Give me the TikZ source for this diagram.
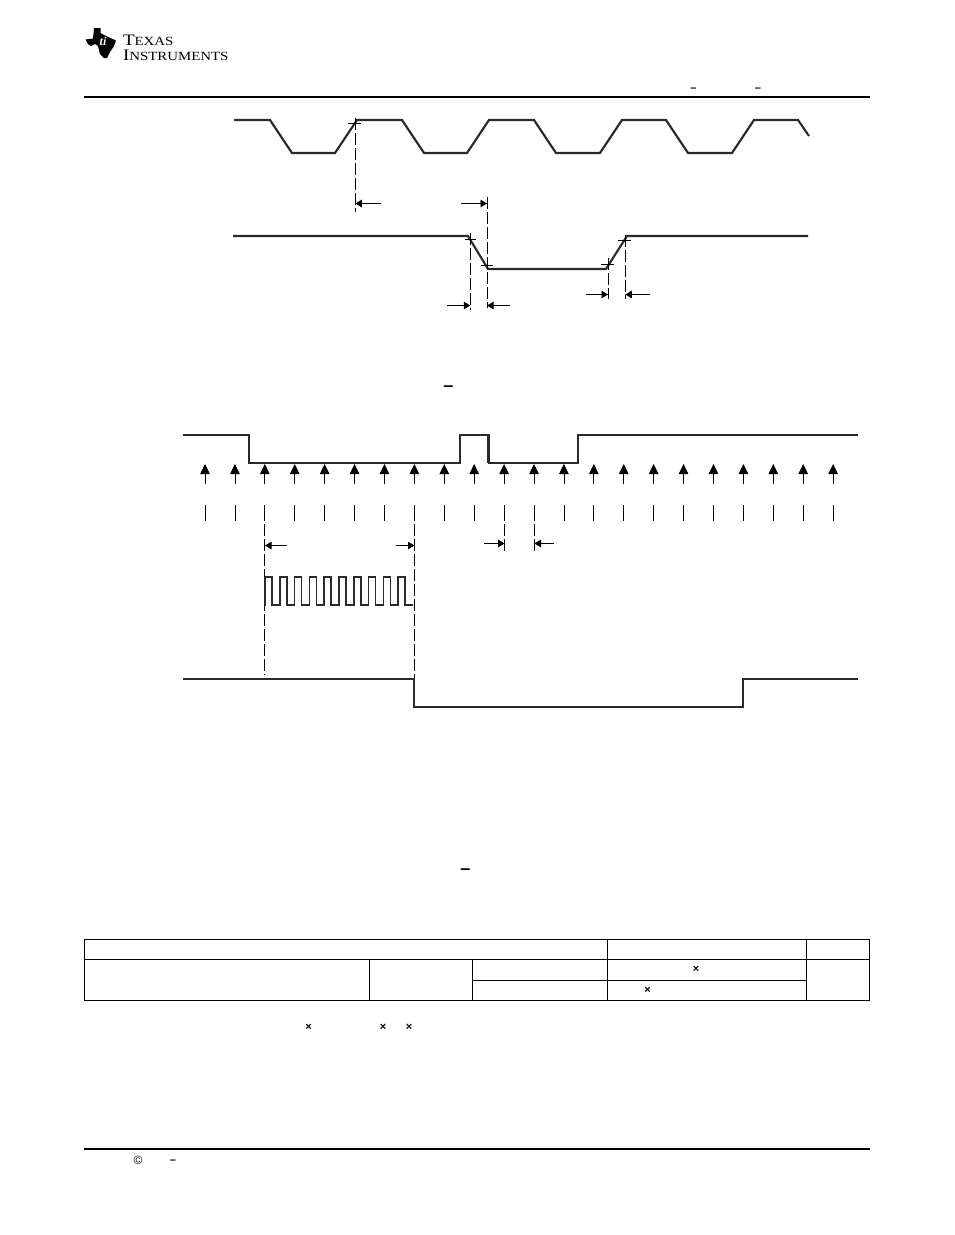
\documentclass[tikz,border=0pt]{standalone}
\usepackage{fontspec}
\setmainfont{Liberation Serif}
\newfontfamily\sansf{Liberation Sans}
\newfontfamily\logof[FakeStretch=1.19]{Liberation Serif}
\usetikzlibrary{arrows.meta}
\definecolor{wave}{HTML}{2A2A2A}
\tikzset{
  x=1pt,y=-1pt,
  sig/.style={line width=2.1pt,draw=wave,line join=miter,line cap=butt},
  guide/.style={line width=0.8pt,draw=black,dash pattern=on 12pt off 3pt},
  tickm/.style={line width=0.6pt,draw=black},
  tickv/.style={line width=0.8pt,draw=black},
  meas/.style={line width=0.8pt,draw=black,-{Triangle[length=6.5pt,width=7.5pt]}},
  clk/.style={line width=0.8pt,draw=black,-{Triangle[length=10pt,width=9.5pt]}},
  tbl/.style={line width=0.9pt,draw=black},
  rulemain/.style={line width=2pt,draw=black},
  glyph/.style={inner sep=0pt,outer sep=0pt,text=black},
}
\begin{document}
\begin{tikzpicture}
\useasboundingbox (0,0) rectangle (954,1235);
% logo
\fill[black] (85.5,39.5) -- (93,38.5) -- (94,28) -- (100.5,28) -- (100.5,33)
  -- (106,36) -- (116,40.5) -- (114,46) -- (110,52) -- (107,58) -- (104,58)
  -- (100,54) -- (98,46) -- (95,44) -- (91,46) -- (88,44) -- cycle;
\node[glyph,text=white,anchor=base,font=\bfseries\itshape\fontsize{12}{12}\selectfont] (logoti) at (103,45) {ti};
\node[glyph,anchor=base west,font=\logof\fontsize{16}{16}\selectfont] (logoa) at (123,45.5) {T{\fontsize{12.5}{12.5}\selectfont EXAS}};
\node[glyph,anchor=base west,font=\logof\fontsize{16}{16}\selectfont] (logob) at (123,60.5) {I{\fontsize{12.5}{12.5}\selectfont NSTRUMENTS}};
% header / footer rules
\draw[rulemain] (84,97) -- (870,97);
\draw[rulemain] (84,1149) -- (870,1149);
% first waveform
\draw[sig] (234,120) -- (270,120) -- (292,153) -- (335,153) -- (357,120) -- (402,120)
  -- (424,153) -- (467,153) -- (489,120) -- (534,120) -- (556,153) -- (600,153)
  -- (622,120) -- (666,120) -- (688,153) -- (732,153) -- (754,120) -- (798,120) -- (809,136);
% second waveform
\draw[sig] (233,236) -- (468,236) -- (488,269) -- (606,269) -- (627,236) -- (808,236);
% guides of the upper figure
\draw[guide] (355.3,118) -- (355.3,212);
\draw[guide] (487,197) -- (487,308);
\draw[guide] (470.3,233) -- (470.3,310);
\draw[guide] (608,258) -- (608,299);
\draw[guide] (625.3,235) -- (625.3,299);
\draw[tickm] (348,123) -- (361,123);
\draw[tickm] (465,239.5) -- (476,239.5);
\draw[tickm] (481,265.5) -- (493,265.5);
\draw[tickm] (601,264) -- (614,264);
\draw[tickm] (618,240) -- (631,240);
% measure arrows of the upper figure
\draw[meas] (381,203.5) -- (355.3,203.5);
\draw[meas] (461,203.5) -- (487,203.5);
\draw[meas] (447,305.5) -- (470.3,305.5);
\draw[meas] (510,305.5) -- (487,305.5);
\draw[meas] (586,294.5) -- (608,294.5);
\draw[meas] (650,294.5) -- (625.3,294.5);
% third waveform
\draw[sig] (183,435) -- (249,435) -- (249,463) -- (460,463) -- (460,435) -- (489,435)
  -- (489,463) -- (578,463) -- (578,435) -- (858,435);
\draw[line width=2.8pt,draw=wave] (488.7,436) -- (488.7,463);
% clock arrows and ticks
\foreach \k in {0,...,21}{
  \pgfmathsetmacro{\xk}{205+29.91*\k}
  \draw[clk] (\xk,484) -- (\xk,464);
  \draw[tickv] (\xk,505) -- (\xk,521);
}
% guides of the lower figure
\draw[guide] (264.8,524) -- (264.8,675);
\draw[guide] (414.5,524) -- (414.5,680);
\draw[guide] (504.6,524) -- (504.6,552);
\draw[guide] (534.5,524) -- (534.5,552);
% measure arrows of the lower figure
\draw[meas] (287,545.5) -- (265,545.5);
\draw[meas] (396,545.5) -- (414.5,545.5);
\draw[meas] (484,543.5) -- (504.6,543.5);
\draw[meas] (554,543.5) -- (534.5,543.5);
% burst
\draw[line width=1.6pt,draw=wave,line join=miter]
  (265,577)
  \foreach \p in {0,...,9}{
    -- ({265+14.8*\p},577) -- ({265+14.8*\p+7},577) -- ({265+14.8*\p+7},605) -- ({265+14.8*\p+14.8},605)
    \ifnum\p<9 -- ({265+14.8*\p+14.8},577)\fi
  } -- (412,605);
\draw[line width=2.4pt,draw=wave] (265,577) -- (265,606);
% fourth waveform
\draw[sig] (183,679) -- (414,679) -- (414,707) -- (743,707) -- (743,679) -- (858,679);
% table
\draw[tbl] (84.7,939.7) rectangle (869.3,1000);
\draw[tbl] (84.7,959.6) -- (869.3,959.6);
\draw[tbl] (472.3,980) -- (806.8,980);
\draw[tbl] (369.3,959.6) -- (369.3,1000);
\draw[tbl] (472.3,959.6) -- (472.3,1000);
\draw[tbl] (607.4,939.7) -- (607.4,1000);
\draw[tbl] (806.8,939.7) -- (806.8,1000);
% printed marks
\tikzset{small/.style={glyph,font=\sansf\bfseries\fontsize{11}{11}\selectfont},
         wide/.style={glyph,font=\sansf\bfseries\fontsize{18}{18}\selectfont}}
\node[small] (dasha) at (693.5,90) {–};
\node[small] (dashb) at (758,90) {–};
\node[wide] (dashc) at (448.5,389) {–};
\node[wide] (dashd) at (465.5,871.5) {–};
\node[small] (timesa) at (696,969.5) {×};
\node[small] (timesb) at (647.5,990.5) {×};
\node[small] (timesc) at (308.5,1027.5) {×};
\node[small] (timesd) at (383,1027.5) {×};
\node[small] (timese) at (409,1027.5) {×};
\node[small,font=\sansf\fontsize{12}{12}\selectfont] (copy) at (138,1160) {©};
\node[small] (dashe) at (173,1161.5) {–};
\end{tikzpicture}
\end{document}
